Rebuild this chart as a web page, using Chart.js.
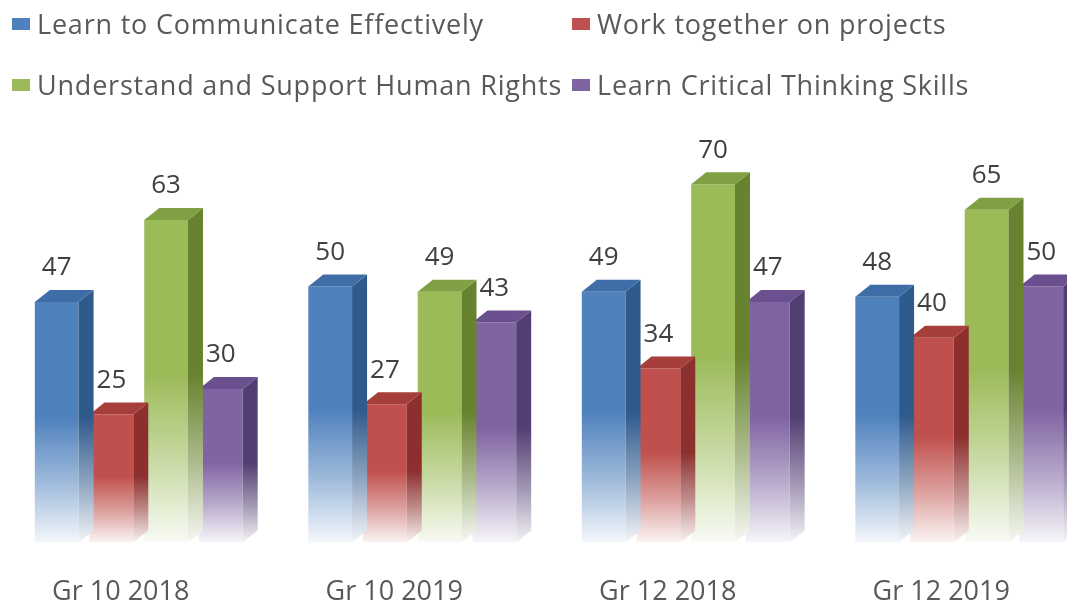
<!DOCTYPE html>
<html>
<head>
<meta charset="utf-8">
<script src="https://cdn.jsdelivr.net/npm/chart.js@4.4.1/dist/chart.umd.min.js"></script>
<style>
  html, body { margin: 0; padding: 0; background: #ffffff; overflow: hidden; }
  #wrap { position: absolute; left: 0; top: 0; width: 1100px; height: 647px; }
  #legend { position: absolute; left: 0; top: 0; width: 1067px; height: 110px; font-family: "Open Sans", sans-serif; font-size: 27px; letter-spacing: 0.8px; color: #595959; }
  .item { position: absolute; height: 30px; line-height: 30px; white-space: nowrap; }
  .item span.box { position: absolute; left: 0; top: 9px; width: 18px; height: 12px; }
  .item span.txt { position: absolute; left: 25px; top: 0; }
</style>
</head>
<body>
<div id="wrap"><canvas id="chart"></canvas></div>
<div id="legend"></div>
<script>
// chart data
const categories = ['Gr 10 2018', 'Gr 10 2019', 'Gr 12 2018', 'Gr 12 2019'];
const seriesNames = [
    'Learn to Communicate Effectively',
    'Work together on projects',
    'Understand and Support Human Rights',
    'Learn Critical Thinking Skills'
];
const communicate = [47, 50, 49, 48];
const teamwork = [25, 27, 34, 40];
const humanRights = [63, 49, 70, 65];
const criticalThinking = [30, 43, 47, 50];

// face colours: front, top, side
const palette = [
    { front: '#4F81BD', top: '#3E6DA7', side: '#2F5A8C' },
    { front: '#C0504D', top: '#A63F3C', side: '#8C2F2D' },
    { front: '#9BBB59', top: '#7FA043', side: '#68832F' },
    { front: '#8064A2', top: '#6A508E', side: '#533E73' }
];

const DX = 15, DY = 12;

function hexToRgb(hex) {
    const n = parseInt(hex.slice(1), 16);
    return [(n >> 16) & 255, (n >> 8) & 255, n & 255];
}
// mix a colour toward white (t = 0 keeps colour, t = 1 is white)
function tint(hex, t) {
    const c = hexToRgb(hex).map(v => Math.round(v + (255 - v) * t));
    return `rgb(${c[0]},${c[1]},${c[2]})`;
}
function fade(ctx, hex, top, base) {
    const g = ctx.createLinearGradient(0, top, 0, base);
    g.addColorStop(0, hex);
    g.addColorStop(0.48, hex);
    g.addColorStop(0.75, tint(hex, 0.45));
    g.addColorStop(1, tint(hex, 0.94));
    return g;
}

// 3D side + top faces for every bar of a dataset
const boxFaces = {
    id: 'boxFaces',
    afterDatasetDraw(chart, args) {
        const ctx = chart.ctx;
        const col = palette[args.index];
        args.meta.data.forEach(bar => {
            const { x, y, base, width } = bar.getProps(['x', 'y', 'base', 'width'], true);
            const x1 = x - width / 2, x2 = x + width / 2;
            ctx.save();
            // side
            ctx.beginPath();
            ctx.moveTo(x2, y);
            ctx.lineTo(x2 + DX, y - DY);
            ctx.lineTo(x2 + DX, base - DY);
            ctx.lineTo(x2, base);
            ctx.closePath();
            ctx.fillStyle = fade(ctx, col.side, y, base);
            ctx.fill();
            // top
            ctx.beginPath();
            ctx.moveTo(x1, y);
            ctx.lineTo(x1 + DX, y - DY);
            ctx.lineTo(x2 + DX, y - DY);
            ctx.lineTo(x2, y);
            ctx.closePath();
            ctx.fillStyle = col.top;
            ctx.fill();
            ctx.restore();
        });
    },
    afterDatasetsDraw(chart) {
        const ctx = chart.ctx;
        ctx.save();
        ctx.font = '26px "Open Sans", sans-serif';
        ctx.fillStyle = '#404040';
        ctx.textAlign = 'center';
        ctx.textBaseline = 'middle';
        chart.data.datasets.forEach((ds, i) => {
            chart.getDatasetMeta(i).data.forEach((bar, j) => {
                ctx.fillText(ds.data[j], bar.x, bar.y - 34);
            });
        });
        ctx.restore();
    }
};

const series = [communicate, teamwork, humanRights, criticalThinking];

const chart = new Chart(document.getElementById('chart'), {
    type: 'bar',
    data: {
        labels: categories,
        datasets: series.map((data, i) => ({
            label: seriesNames[i],
            data,
            barPercentage: 0.8,
            categoryPercentage: 0.8,
            backgroundColor: c => {
                const ch = c.chart;
                if (!ch.chartArea || c.raw === undefined) return palette[i].front;
                const ys = ch.scales.y;
                return fade(ch.ctx, palette[i].front, ys.getPixelForValue(c.raw), ys.getPixelForValue(0));
            }
        }))
    },
    options: {
        responsive: true,
        maintainAspectRatio: false,
        animation: false,
        layout: { padding: { left: 2, right: 4, top: 133, bottom: 4 } },
        plugins: {
            legend: { display: false },
            tooltip: { enabled: false }
        },
        scales: {
            x: {
                grid: { display: false, drawTicks: false },
                border: { display: false },
                ticks: {
                    color: '#595959',
                    font: { family: '"Open Sans", sans-serif', size: 27 },
                    padding: 34,
                    labelOffset: -18,
                    maxRotation: 0,
                    autoSkip: false
                }
            },
            y: { display: false, min: 0, max: 80 }
        }
    },
    plugins: [boxFaces]
});

// html legend in two columns
const legendPos = [[12, 9], [572, 9], [12, 70], [572, 70]];
const legend = document.getElementById('legend');
chart.data.datasets.forEach((ds, i) => {
    const el = document.createElement('div');
    el.className = 'item';
    el.style.left = legendPos[i][0] + 'px';
    el.style.top = legendPos[i][1] + 'px';
    el.innerHTML = `<span class="box" style="background:${palette[i].front}"></span><span class="txt">${ds.label}</span>`;
    legend.appendChild(el);
});
</script>
</body>
</html>
